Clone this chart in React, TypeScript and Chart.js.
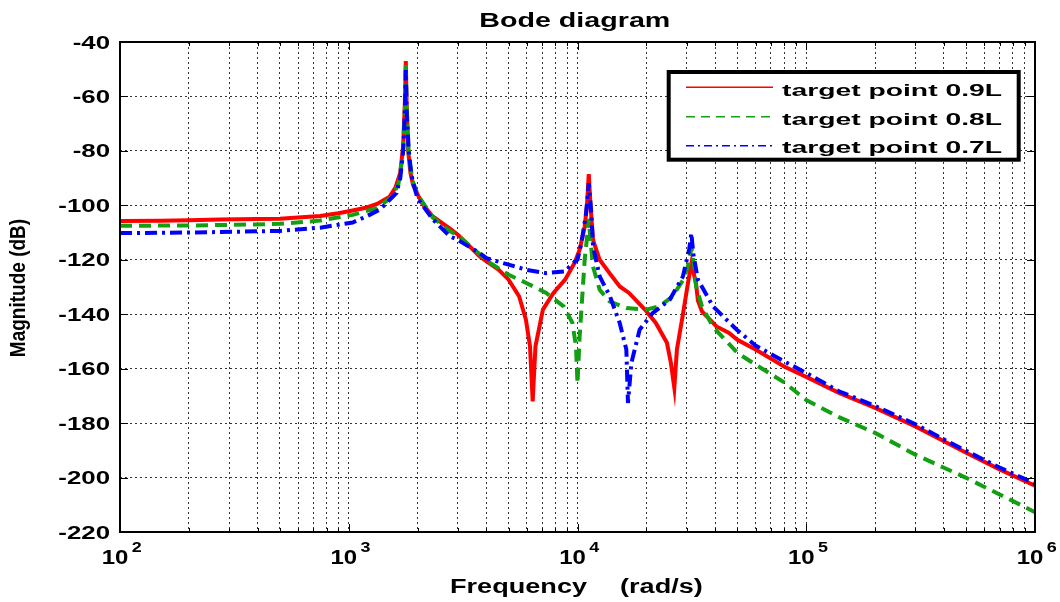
import React, { useEffect, useRef } from 'react';
import { Chart, registerables } from 'chart.js';

Chart.register(...registerables);

// ---------- data (frequency rad/s, magnitude dB) ----------
const red09L: [number, number][] = [
  [100, -105.8], [150, -105.7], [200, -105.5], [273, -105.2], [400, -105.0], [500, -104.9],
  [600, -104.5], [750, -103.9], [900, -102.9], [1040, -101.9], [1200, -100.8], [1330, -99.5],
  [1510, -96.8], [1600, -93.5], [1680, -88], [1730, -78], [1760, -62], [1776, -47], [1790, -62],
  [1820, -80], [1860, -88], [1910, -92.5], [2000, -96], [2100, -99.5], [2330, -104.1],
  [2760, -108.5], [3000, -110.8], [3740, -118.8], [4000, -120.6], [4500, -123.5], [5000, -127.3],
  [5560, -133.5], [5950, -142], [6200, -151.8], [6370, -172], [6550, -151.8], [7060, -138.3],
  [7850, -132.2], [8830, -127.3], [9700, -121.2], [10220, -116.3], [10750, -107.8], [11000, -100],
  [11200, -88.5], [11400, -100], [11690, -112.7], [12500, -120], [13800, -124.9], [15300, -129.8],
  [16800, -132.2], [19700, -138.3], [22000, -143.2], [24600, -150.5], [25600, -157.9],
  [26500, -167], [27200, -153], [28800, -140.8], [30400, -128.6], [31500, -121.2], [33000, -129],
  [33600, -135], [35000, -139], [40500, -144.5], [46000, -146.9], [50000, -149.4], [60000, -153],
  [80000, -159.2], [100000, -163], [139000, -168.9], [200000, -174.4], [300000, -181.2],
  [400000, -186.7], [500000, -190.9], [700000, -197], [1000000, -203],
];

const green08L: [number, number][] = [
  [100, -107.5], [200, -107.4], [300, -107.2], [500, -106.8], [750, -105.6], [1040, -103.5],
  [1330, -101], [1550, -96.8], [1650, -92], [1720, -82], [1760, -65], [1776, -47.6], [1790, -65],
  [1830, -82], [1900, -91], [2000, -96], [2330, -104.5], [2770, -109.5], [3000, -111],
  [3740, -118], [4000, -120.3], [5000, -125.5], [6000, -128.6], [7300, -132.2], [8700, -137.1],
  [9500, -143.2], [9850, -151.8], [10000, -165.5], [10220, -148.1], [10750, -120], [11000, -112],
  [11200, -105], [11400, -113], [11690, -122.5], [12500, -131], [13800, -135.3], [16400, -137.7],
  [20000, -138.3], [22800, -137.1], [26000, -133.5], [29000, -127.3], [30500, -122],
  [31500, -115.5], [32300, -122], [33000, -129.8], [35000, -137.1], [39000, -144.5],
  [50000, -154.2], [60000, -158.5], [80000, -165], [100000, -171.5], [139000, -177.8],
  [200000, -183.6], [300000, -191.6], [400000, -196.4], [500000, -200.1], [700000, -206.2],
  [1000000, -212.7],
];

const blue07L: [number, number][] = [
  [100, -110.2], [200, -110], [273, -109.8], [500, -109.4], [750, -108.2], [1040, -106.3],
  [1200, -104], [1370, -101.5], [1460, -99.2], [1617, -95.5], [1680, -90], [1730, -80],
  [1760, -65], [1776, -50.3], [1790, -65], [1830, -80], [1880, -89], [1945, -94], [2000, -97.5],
  [2338, -105.3], [2765, -111.4], [3000, -112.7], [3740, -117.6], [4000, -119.4], [5000, -121.8],
  [6000, -123.7], [7300, -124.9], [8800, -124.3], [9550, -121.2], [10000, -120], [10400, -113.9],
  [10900, -103], [11200, -91.9], [11500, -103], [11690, -115.1], [12500, -126.1], [13870, -133.5],
  [15290, -143.2], [16350, -153], [16620, -172.6], [17200, -157.9], [18690, -145.7],
  [21300, -139.6], [25280, -134.7], [28900, -126.1], [30800, -116], [31460, -110.2],
  [32100, -118], [33600, -127.3], [39100, -137.1], [49700, -145.7], [60000, -151.5],
  [80000, -157.3], [100000, -161.6], [139000, -168.3], [200000, -173.7], [300000, -180.4],
  [400000, -186], [500000, -190.2], [700000, -196.3], [1000000, -202.2],
];

const seriesLabels = ['target point 0.9L', 'target point 0.8L', 'target point 0.7L'];
const seriesColors = ['#ff0000', '#12a012', '#0000ff'];

const xMajorTicks = [100, 1000, 10000, 100000, 1000000];
const xMajorExponents = ['2', '3', '4', '5', '6'];
const xMinorMultipliers = [2, 3, 4, 5, 6, 7, 8, 9];
const yTicks = [-220, -200, -180, -160, -140, -120, -100, -80, -60, -40];

const titleText = 'Bode diagram';
const xTitleLeft = 'Frequency';
const xTitleRight = '(rad/s)';
const yTitleText = 'Magnitude (dB)';

// ---------- layout ----------
const W = 1060;
const H = 602;
const PL = 120, PT = 42, PR = 1035, PB = 532;
const FONT = '"Liberation Sans", Arial, Helvetica, sans-serif';

const xGridValues: number[] = [];
xMajorTicks.forEach((m, i) => {
  xGridValues.push(m);
  if (i < xMajorTicks.length - 1) xMinorMultipliers.forEach((k) => xGridValues.push(m * k));
});

function drawText(
  ctx: CanvasRenderingContext2D, s: string, x: number, y: number,
  size: number, sx: number, align: CanvasTextAlign,
) {
  ctx.save();
  ctx.font = `bold ${size}px ${FONT}`;
  ctx.fillStyle = '#000';
  ctx.textAlign = align;
  ctx.textBaseline = 'alphabetic';
  ctx.translate(x, y);
  ctx.scale(sx, 1);
  ctx.fillText(s, 0, 0);
  ctx.restore();
}

function fitScale(ctx: CanvasRenderingContext2D, s: string, size: number, width: number) {
  ctx.save();
  ctx.font = `bold ${size}px ${FONT}`;
  const w = ctx.measureText(s).width;
  ctx.restore();
  return width / w;
}

const dashes: number[][] = [[], [12, 7], [12, 5, 3, 5]];
const legendDashes: number[][] = [[], [9, 6], [8, 4, 2, 4]];

const decorPlugin = {
  id: 'decor',
  afterDraw(chart: any) {
    const ctx: CanvasRenderingContext2D = chart.ctx;
    const xs = chart.scales.x;
    const ys = chart.scales.y;
    const { left, right, top, bottom } = chart.chartArea;

    // ticks inside frame
    ctx.save();
    ctx.strokeStyle = '#000';
    ctx.lineWidth = 1;
    ctx.setLineDash([]);
    ctx.beginPath();
    yTicks.forEach((v) => {
      const y = Math.round(ys.getPixelForValue(v)) + 0.5;
      ctx.moveTo(left, y); ctx.lineTo(left + 8, y);
      ctx.moveTo(right, y); ctx.lineTo(right - 8, y);
    });
    xGridValues.forEach((v) => {
      const x = Math.round(xs.getPixelForValue(v)) + 0.5;
      const len = xMajorTicks.includes(v) ? 8 : 4;
      ctx.moveTo(x, bottom); ctx.lineTo(x, bottom - len);
      ctx.moveTo(x, top); ctx.lineTo(x, top + len);
    });
    ctx.stroke();
    // frame
    ctx.lineWidth = 2;
    ctx.strokeRect(left, top, right - left, bottom - top);
    ctx.restore();

    // y tick labels
    yTicks.forEach((v) => {
      const y = ys.getPixelForValue(v);
      drawText(ctx, String(v), 110, y + 6.6, 18.6, 1.39, 'right');
    });

    // x tick labels 10^n
    xMajorTicks.forEach((v, i) => {
      const x = xs.getPixelForValue(v);
      drawText(ctx, '10', x - 18.3, 564, 19.5, 1.23, 'left');
      drawText(ctx, xMajorExponents[i], x + 11.7, 551.7, 14, 1.28, 'left');
    });

    // title
    const tsx = fitScale(ctx, titleText, 19.5, 191);
    drawText(ctx, titleText, 479.3, 26.7, 19.5, tsx, 'left');

    // x axis title
    drawText(ctx, xTitleLeft, 450, 593, 19.5, 1.39, 'left');
    drawText(ctx, xTitleRight, 620, 593, 19.5, 1.39, 'left');

    // y axis title (rotated)
    ctx.save();
    ctx.font = `bold 19px ${FONT}`;
    ctx.fillStyle = '#000';
    ctx.textAlign = 'center';
    ctx.textBaseline = 'alphabetic';
    ctx.translate(24.5, 288);
    ctx.scale(1.2, 1);
    ctx.rotate(-Math.PI / 2);
    ctx.fillText(yTitleText, 0, 0);
    ctx.restore();

    // legend
    ctx.save();
    ctx.fillStyle = '#fff';
    ctx.fillRect(668.7, 72, 350, 87.7);
    ctx.strokeStyle = '#000';
    ctx.lineWidth = 4;
    ctx.setLineDash([]);
    ctx.strokeRect(668.7, 72, 350, 87.7);
    const rowsLine = [87.3, 116.7, 145.7];
    const rowsBase = [96, 125, 153.3];
    const lsx = fitScale(ctx, seriesLabels[0], 17, 220);
    seriesLabels.forEach((lab, i) => {
      ctx.save();
      ctx.strokeStyle = seriesColors[i];
      ctx.lineWidth = 1.5;
      ctx.setLineDash(legendDashes[i]);
      ctx.beginPath();
      ctx.moveTo(686, rowsLine[i]);
      ctx.lineTo(773, rowsLine[i]);
      ctx.stroke();
      ctx.restore();
      drawText(ctx, lab, 782, rowsBase[i], 17, lsx, 'left');
    });
    ctx.restore();
  },
};

export default function App() {
  const ref = useRef<HTMLCanvasElement>(null);

  useEffect(() => {
    const canvas = ref.current;
    if (!canvas) return;
    const series = [red09L, green08L, blue07L];
    const chart = new Chart(canvas, {
      type: 'line',
      data: {
        datasets: series.map((s, i) => ({
          label: seriesLabels[i],
          data: s.map(([f, m]) => ({ x: f, y: m })),
          borderColor: seriesColors[i],
          backgroundColor: seriesColors[i],
          borderWidth: 4,
          borderDash: dashes[i],
          pointRadius: 0,
          tension: 0,
          fill: false,
          order: 3 - i,
        })),
      },
      options: {
        animation: false,
        responsive: false,
        devicePixelRatio: 1,
        layout: { padding: { left: PL, top: PT, right: W - PR, bottom: H - PB }, autoPadding: false },
        plugins: {
          legend: { display: false },
          title: { display: false },
          tooltip: { enabled: false },
        },
        scales: {
          x: {
            type: 'logarithmic',
            min: 100,
            max: 1000000,
            afterBuildTicks: (scale: any) => {
              scale.ticks = xGridValues.map((v) => ({ value: v }));
            },
            afterFit: (scale: any) => { scale.height = 0; },
            ticks: { display: false },
            grid: { color: '#333', lineWidth: 1, drawTicks: false },
            border: { display: false, dash: [2, 3] },
          },
          y: {
            type: 'linear',
            min: -220,
            max: -40,
            afterBuildTicks: (scale: any) => {
              scale.ticks = yTicks.map((v) => ({ value: v }));
            },
            afterFit: (scale: any) => { scale.width = 0; },
            ticks: { display: false },
            grid: { color: '#333', lineWidth: 1, drawTicks: false },
            border: { display: false, dash: [2, 3] },
          },
        },
      } as any,
      plugins: [decorPlugin],
    });
    return () => chart.destroy();
  }, []);

  return (
    <div style={{ position: 'absolute', left: 0, top: 0, width: W, height: H, background: '#fff' }}>
      <canvas ref={ref} width={W} height={H} style={{ display: 'block', width: W, height: H }} />
    </div>
  );
}
